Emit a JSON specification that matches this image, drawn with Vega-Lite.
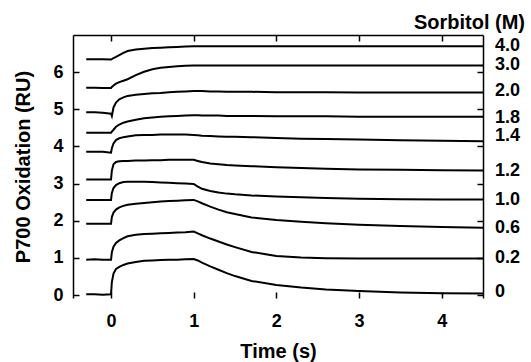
{
  "$schema": "https://vega.github.io/schema/vega-lite/v6.json",
  "width": 410,
  "height": 263,
  "autosize": {"type": "none"},
  "padding": {"left": 73, "top": 35, "right": 48, "bottom": 64},
  "background": "white",
  "title": {"text": "Sorbitol (M)", "anchor": "end", "frame": "group", "dx": 42, "offset": 1, "fontSize": 20, "fontWeight": "bold", "color": "black", "font": "Liberation Sans"},
  "config": {
    "view": {"stroke": null},
    "font": "Liberation Sans",
    "axis": {
      "grid": false,
      "domainColor": "black",
      "domainWidth": 1.5,
      "tickColor": "black",
      "tickWidth": 1.5,
      "tickSize": -6,
      "labelFont": "Liberation Sans",
      "labelFontSize": 18,
      "labelFontWeight": "bold",
      "labelColor": "black",
      "titleFont": "Liberation Sans",
      "titleFontSize": 20,
      "titleFontWeight": "bold",
      "titleColor": "black"
    }
  },
  "datasets": {
    "traces": [
      {"t": -0.3, "a": 0.02, "b": 0.95, "c": 1.92, "d": 2.56, "e": 3.11, "f": 3.86, "g": 4.37, "h": 4.92, "i": 5.58, "j": 6.35},
      {"t": -0.2, "a": 0.02, "b": 0.96, "c": 1.92, "d": 2.56, "e": 3.11, "f": 3.86, "g": 4.37, "h": 4.92, "i": 5.58, "j": 6.35},
      {"t": -0.1, "a": 0.01, "b": 0.95, "c": 1.92, "d": 2.56, "e": 3.11, "f": 3.86, "g": 4.37, "h": 4.91, "i": 5.57, "j": 6.35},
      {"t": 0, "a": 0.02, "b": 0.95, "c": 1.92, "d": 2.56, "e": 3.11, "f": 3.83, "g": 4.37, "h": 4.88, "i": 5.57, "j": 6.34},
      {"t": 0.01, "a": 0.35, "b": 1.15, "c": 2.10, "d": 2.75, "e": 3.35, "f": 3.95, "g": 4.40, "h": 4.82, "i": 5.60, "j": 6.35},
      {"t": 0.03, "a": 0.58, "b": 1.30, "c": 2.22, "d": 2.88, "e": 3.52, "f": 4.08, "g": 4.45, "h": 5.05, "i": 5.64, "j": 6.38},
      {"t": 0.06, "a": 0.70, "b": 1.40, "c": 2.30, "d": 2.96, "e": 3.58, "f": 4.17, "g": 4.53, "h": 5.18, "i": 5.69, "j": 6.41},
      {"t": 0.1, "a": 0.76, "b": 1.47, "c": 2.36, "d": 3.01, "e": 3.60, "f": 4.22, "g": 4.59, "h": 5.27, "i": 5.73, "j": 6.46},
      {"t": 0.15, "a": 0.81, "b": 1.53, "c": 2.40, "d": 3.04, "e": 3.61, "f": 4.25, "g": 4.64, "h": 5.32, "i": 5.77, "j": 6.52},
      {"t": 0.2, "a": 0.85, "b": 1.58, "c": 2.43, "d": 3.05, "e": 3.61, "f": 4.27, "g": 4.67, "h": 5.36, "i": 5.81, "j": 6.57},
      {"t": 0.3, "a": 0.89, "b": 1.62, "c": 2.46, "d": 3.05, "e": 3.62, "f": 4.30, "g": 4.72, "h": 5.39, "i": 5.92, "j": 6.61},
      {"t": 0.4, "a": 0.92, "b": 1.64, "c": 2.48, "d": 3.05, "e": 3.62, "f": 4.31, "g": 4.76, "h": 5.41, "i": 6.01, "j": 6.63},
      {"t": 0.5, "a": 0.93, "b": 1.65, "c": 2.50, "d": 3.04, "e": 3.63, "f": 4.31, "g": 4.78, "h": 5.43, "i": 6.08, "j": 6.65},
      {"t": 0.6, "a": 0.94, "b": 1.66, "c": 2.52, "d": 3.03, "e": 3.63, "f": 4.32, "g": 4.80, "h": 5.44, "i": 6.12, "j": 6.66},
      {"t": 0.7, "a": 0.95, "b": 1.67, "c": 2.53, "d": 3.02, "e": 3.64, "f": 4.32, "g": 4.81, "h": 5.46, "i": 6.14, "j": 6.67},
      {"t": 0.8, "a": 0.95, "b": 1.68, "c": 2.54, "d": 3.01, "e": 3.64, "f": 4.32, "g": 4.82, "h": 5.47, "i": 6.16, "j": 6.68},
      {"t": 0.9, "a": 0.96, "b": 1.69, "c": 2.55, "d": 3.00, "e": 3.64, "f": 4.32, "g": 4.83, "h": 5.48, "i": 6.17, "j": 6.69},
      {"t": 1.0, "a": 0.97, "b": 1.71, "c": 2.56, "d": 2.99, "e": 3.64, "f": 4.31, "g": 4.84, "h": 5.49, "i": 6.18, "j": 6.70},
      {"t": 1.05, "a": 0.93, "b": 1.66, "c": 2.52, "d": 2.92, "e": 3.61, "f": 4.30, "g": 4.84, "h": 5.49, "i": 6.18, "j": 6.70},
      {"t": 1.1, "a": 0.87, "b": 1.61, "c": 2.47, "d": 2.86, "e": 3.58, "f": 4.29, "g": 4.83, "h": 5.49, "i": 6.18, "j": 6.70},
      {"t": 1.2, "a": 0.77, "b": 1.52, "c": 2.38, "d": 2.80, "e": 3.54, "f": 4.28, "g": 4.83, "h": 5.48, "i": 6.18, "j": 6.70},
      {"t": 1.3, "a": 0.68, "b": 1.44, "c": 2.30, "d": 2.76, "e": 3.52, "f": 4.27, "g": 4.83, "h": 5.48, "i": 6.18, "j": 6.70},
      {"t": 1.4, "a": 0.59, "b": 1.36, "c": 2.23, "d": 2.73, "e": 3.50, "f": 4.26, "g": 4.82, "h": 5.47, "i": 6.18, "j": 6.70},
      {"t": 1.5, "a": 0.51, "b": 1.29, "c": 2.18, "d": 2.71, "e": 3.49, "f": 4.26, "g": 4.82, "h": 5.47, "i": 6.18, "j": 6.70},
      {"t": 1.7, "a": 0.38, "b": 1.16, "c": 2.09, "d": 2.68, "e": 3.47, "f": 4.25, "g": 4.82, "h": 5.47, "i": 6.18, "j": 6.70},
      {"t": 2.0, "a": 0.27, "b": 1.05, "c": 2.02, "d": 2.65, "e": 3.44, "f": 4.23, "g": 4.81, "h": 5.46, "i": 6.18, "j": 6.70},
      {"t": 2.3, "a": 0.20, "b": 1.01, "c": 1.97, "d": 2.63, "e": 3.42, "f": 4.21, "g": 4.81, "h": 5.46, "i": 6.18, "j": 6.70},
      {"t": 2.6, "a": 0.15, "b": 0.99, "c": 1.93, "d": 2.61, "e": 3.40, "f": 4.20, "g": 4.81, "h": 5.46, "i": 6.18, "j": 6.70},
      {"t": 3.0, "a": 0.11, "b": 0.98, "c": 1.89, "d": 2.59, "e": 3.38, "f": 4.19, "g": 4.80, "h": 5.45, "i": 6.18, "j": 6.70},
      {"t": 3.5, "a": 0.07, "b": 0.98, "c": 1.86, "d": 2.58, "e": 3.37, "f": 4.17, "g": 4.80, "h": 5.45, "i": 6.18, "j": 6.70},
      {"t": 4.0, "a": 0.05, "b": 0.98, "c": 1.83, "d": 2.57, "e": 3.36, "f": 4.15, "g": 4.80, "h": 5.45, "i": 6.18, "j": 6.70},
      {"t": 4.5, "a": 0.04, "b": 0.98, "c": 1.81, "d": 2.57, "e": 3.35, "f": 4.14, "g": 4.80, "h": 5.45, "i": 6.18, "j": 6.70}
    ],
    "labels": [
      {"t": 4.5, "v": 6.70, "lab": "4.0"},
      {"t": 4.5, "v": 6.20, "lab": "3.0"},
      {"t": 4.5, "v": 5.48, "lab": "2.0"},
      {"t": 4.5, "v": 4.77, "lab": "1.8"},
      {"t": 4.5, "v": 4.27, "lab": "1.4"},
      {"t": 4.5, "v": 3.33, "lab": "1.2"},
      {"t": 4.5, "v": 2.57, "lab": "1.0"},
      {"t": 4.5, "v": 1.81, "lab": "0.6"},
      {"t": 4.5, "v": 1.00, "lab": "0.2"},
      {"t": 4.5, "v": 0.07, "lab": "0"}
    ]
  },
  "resolve": {"axis": {"x": "independent", "y": "independent"}},
  "layer": [
    {
      "data": {"name": "traces"},
      "transform": [{"fold": ["a", "b", "c", "d", "e", "f", "g", "h", "i", "j"], "as": ["series", "v"]}],
      "mark": {"type": "line", "color": "black", "strokeWidth": 2},
      "encoding": {
        "x": {
          "field": "t", "type": "quantitative",
          "scale": {"domain": [-0.46, 4.5], "nice": false, "zero": false},
          "axis": {"orient": "bottom", "values": [0, 1, 2, 3, 4], "format": "d", "domain": false, "labelPadding": 20, "title": "Time (s)", "titlePadding": 11}
        },
        "y": {
          "field": "v", "type": "quantitative",
          "scale": {"domain": [-0.08, 7], "nice": false, "zero": false},
          "axis": {"orient": "left", "values": [0, 1, 2, 3, 4, 5, 6], "format": "d", "labelPadding": 16, "title": "P700 Oxidation (RU)", "titlePadding": 19}
        },
        "detail": {"field": "series"}
      }
    },
    {
      "data": {"name": "labels"},
      "mark": {"type": "text", "align": "left", "baseline": "middle", "dx": 12, "fontSize": 18, "fontWeight": "bold", "color": "black"},
      "encoding": {
        "x": {
          "field": "t", "type": "quantitative",
          "axis": {"orient": "top", "values": [0, 1, 2, 3, 4], "labels": false, "title": null}
        },
        "y": {
          "field": "v", "type": "quantitative",
          "axis": {"orient": "right", "values": [0, 1, 2, 3, 4, 5, 6], "labels": false, "title": null}
        },
        "text": {"field": "lab"}
      }
    },
    {
      "mark": {"type": "rule", "color": "black", "strokeWidth": 1.5},
      "encoding": {
        "x": {"datum": -0.3, "axis": null},
        "x2": {"datum": 4.5},
        "y": {"datum": -0.08, "axis": null}
      }
    }
  ]
}
